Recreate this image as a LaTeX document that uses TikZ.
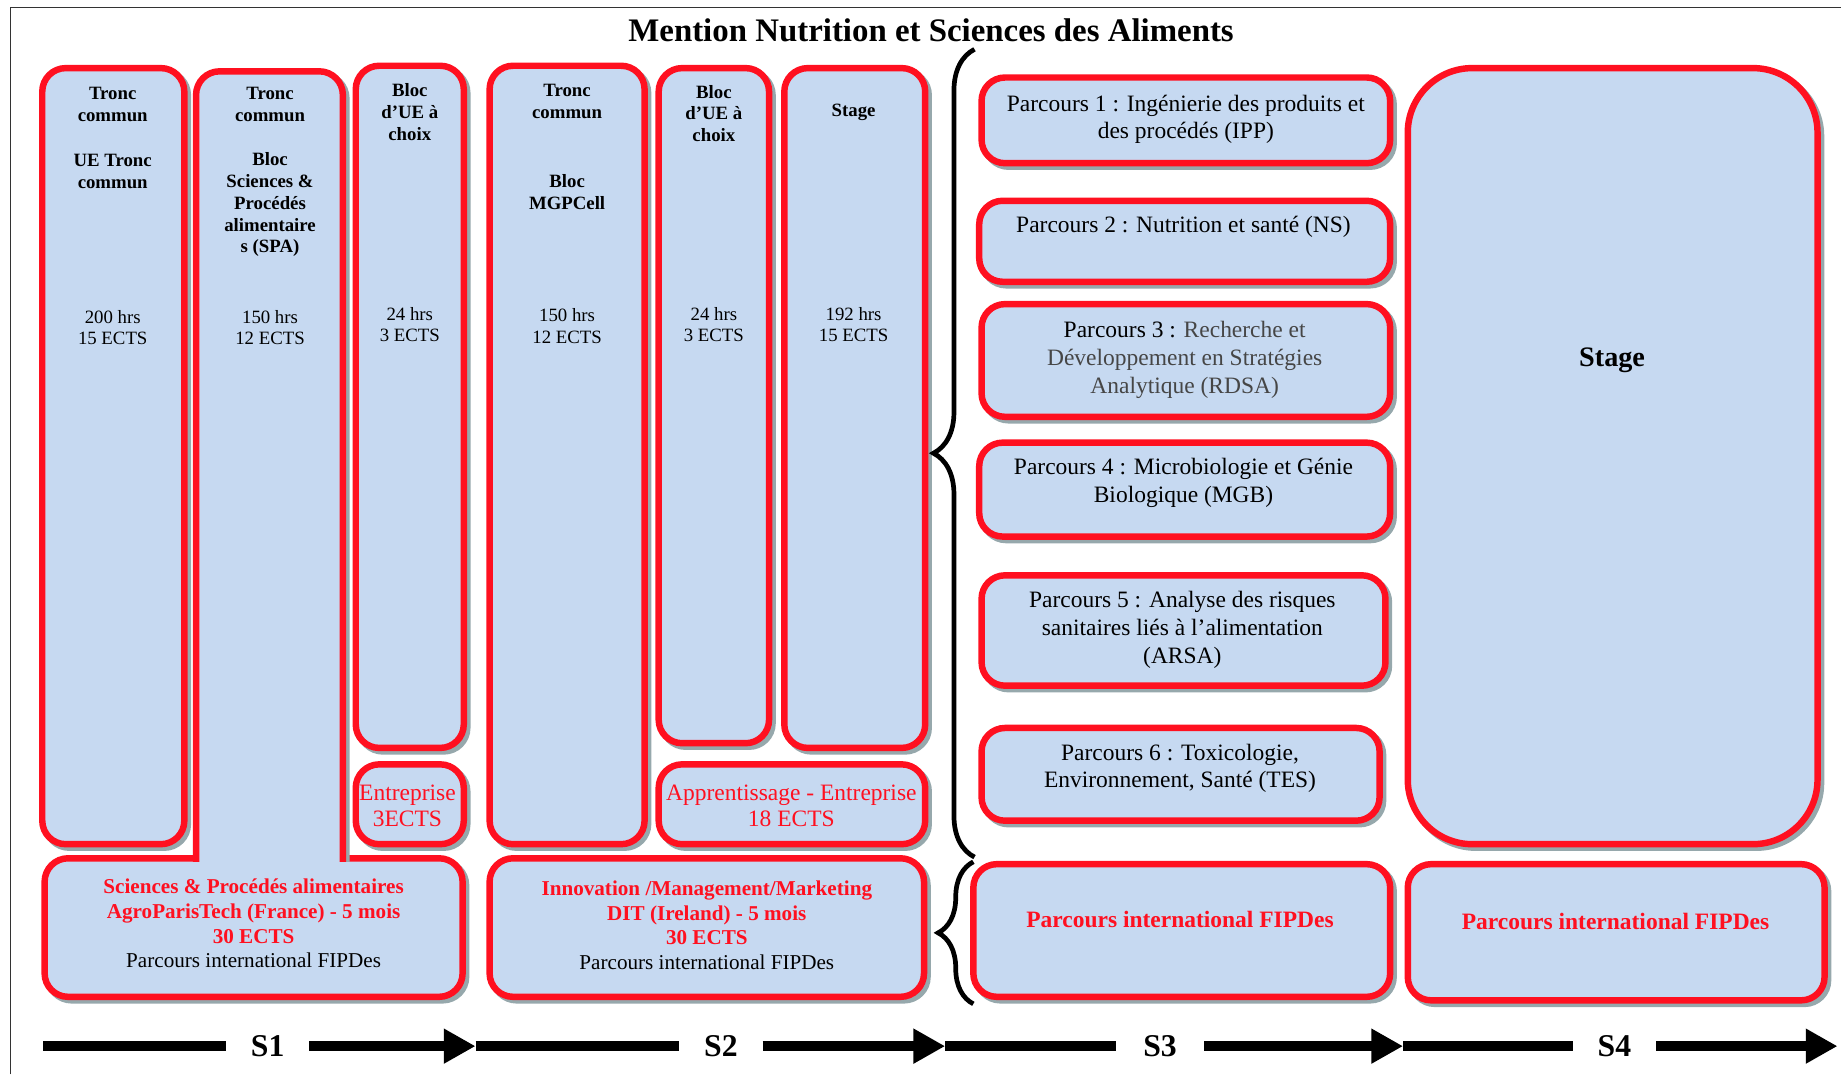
\documentclass[tikz,border=0pt]{standalone}
\usepackage{fontspec}
\setmainfont{Liberation Serif}
\usetikzlibrary{shadows,decorations.pathreplacing,arrows.meta}

\definecolor{boxred}{RGB}{255,16,32}
\definecolor{boxblue}{RGB}{198,217,241}
\definecolor{shade}{RGB}{150,168,172}
\definecolor{inkgray}{RGB}{70,70,70}

\tikzset{
  box/.style={draw=boxred, line width=5.5pt, fill=boxblue, rounded corners=20pt,
    inner sep=0pt,
    drop shadow={shadow xshift=3pt, shadow yshift=-3pt, fill=shade, draw=shade, opacity=1}},
  colhead/.style={font=\bfseries\fontsize{16}{18.5}\selectfont, align=center, inner sep=0pt},
  colhours/.style={font=\fontsize{16}{18.5}\selectfont, align=center, inner sep=0pt},
  redtext/.style={font=\fontsize{20}{22}\selectfont, text=boxred, align=center, inner sep=0pt},
  bottomtext/.style={font=\bfseries\fontsize{18}{21}\selectfont, text=boxred, align=center, inner sep=0pt},
  parcours/.style={font=\fontsize{20}{23.5}\selectfont, align=center, inner sep=0pt},
  fipdes/.style={font=\bfseries\fontsize{20}{23}\selectfont, text=boxred, inner sep=0pt},
  semlabel/.style={font=\bfseries\fontsize{27}{30}\selectfont, inner xsep=21pt, inner ysep=0pt},
  timeline/.style={line width=8.5pt, black},
  timehead/.style={-{Triangle[length=27pt,width=28pt]}},
  bracestyle/.style={line width=4pt, black, decorate},
}

\begin{document}
\begin{tikzpicture}[x=1pt, y=-1pt]
\useasboundingbox (0,0) rectangle (1568,915);

% outer frame (top and left edges)
\draw[line width=1.3pt, black!80] (9,915) -- (9,6.5) -- (1568,6.5);

% title
\node[font=\bfseries\fontsize{28}{32}\selectfont, inner sep=0pt] (title) at (793,26) {Mention Nutrition et Sciences des Aliments};

% ---------------- S1 ----------------
\node[box, minimum width=356pt, minimum height=118pt] (fipA) at (216,790) {};
\begin{scope}
  \clip (0,0) rectangle (1568,734);
  \node[box, minimum width=125pt, minimum height=742pt, anchor=north] (spa) at (229.5,58) {};
\end{scope}
\node[box, minimum width=121pt, minimum height=661pt] (ueA) at (96.5,388.5) {};
\node[box, minimum width=92pt, minimum height=581pt] (choixA) at (349,346.5) {};
\node[box, minimum width=92pt, minimum height=68pt] (entA) at (349,685) {};

\node[colhead] (ueAt1) at (96,89) {Tronc\\commun};
\node[colhead] (ueAt2) at (96,146) {UE Tronc\\commun};
\node[colhours] (ueAh) at (96,279) {200 hrs\\15 ECTS};

\node[colhead] (spat1) at (230,89) {Tronc\\commun};
\node[colhead] (spat2) at (230,174.5) {Bloc\\Sciences \&\\Procédés\\alimentaire\\s (SPA)};
\node[colhours] (spah) at (230,279) {150 hrs\\12 ECTS};

\node[colhead] (choixAt) at (349,95.5) {Bloc\\d’UE à\\choix};
\node[colhours] (choixAh) at (349,276.5) {24 hrs\\3 ECTS};

\node[redtext] (entAt) at (347,686) {Entreprise\\3ECTS};

\node[bottomtext] (fipAt) at (216,786.5) {Sciences \& Procédés alimentaires\\AgroParisTech (France) - 5 mois\\30 ECTS\\{\mdseries\color{black}Parcours international FIPDes}};

% ---------------- S2 ----------------
\node[box, minimum width=370pt, minimum height=118pt] (fipB) at (602,790) {};
\node[box, minimum width=132pt, minimum height=663pt] (mgp) at (483,387.5) {};
\node[box, minimum width=94pt, minimum height=575pt] (choixB) at (608,345.5) {};
\node[box, minimum width=120pt, minimum height=579pt] (stageB) at (728,347.5) {};
\node[box, minimum width=227pt, minimum height=68pt] (appr) at (674.5,685) {};

\node[colhead] (mgpt1) at (483,86.5) {Tronc\\commun};
\node[colhead] (mgpt2) at (483,163.5) {Bloc\\MGPCell};
\node[colhours] (mgph) at (483,277.5) {150 hrs\\12 ECTS};

\node[colhead] (choixBt) at (608,96.5) {Bloc\\d’UE à\\choix};
\node[colhours] (choixBh) at (608,276.5) {24 hrs\\3 ECTS};

\node[colhead] (stageBt) at (727,96) {Stage};
\node[colhours] (stageBh) at (727,276.5) {192 hrs\\15 ECTS};

\node[redtext] (apprt) at (674,686) {Apprentissage - Entreprise\\18 ECTS};

\node[bottomtext] (fipBt) at (602,788) {Innovation /Management/Marketing\\DIT (Ireland) - 5 mois\\30 ECTS\\{\mdseries\color{black}Parcours international FIPDes}};

% ---------------- S3 ----------------
\node[box, minimum width=348pt, minimum height=73pt] (p1) at (1010,102.5) {};
\node[box, minimum width=350pt, minimum height=69pt] (p2) at (1009,205.5) {};
\node[box, minimum width=348pt, minimum height=96pt] (p3) at (1010,307) {};
\node[box, minimum width=350pt, minimum height=80pt] (p4) at (1009,417) {};
\node[box, minimum width=344pt, minimum height=94pt] (p5) at (1008,537) {};
\node[box, minimum width=339pt, minimum height=79pt] (p6) at (1005.5,659.5) {};
\node[box, minimum width=355pt, minimum height=113pt] (fipC) at (1006.5,792.5) {};

\node[parcours] (p1t) at (1010,101.5) {Parcours 1 : Ingénierie des produits et\\des procédés (IPP)};
\node[parcours] (p2t) at (1008,193) {Parcours 2 : Nutrition et santé (NS)};
\node[parcours] (p3t) at (1009,306.5) {Parcours 3 : {\color{inkgray}Recherche et}\\{\color{inkgray}Développement en Stratégies}\\{\color{inkgray}Analytique (RDSA)}};
\node[parcours] (p4t) at (1008,411.5) {Parcours 4 : Microbiologie et Génie\\Biologique (MGB)};
\node[parcours] (p5t) at (1007,536.5) {Parcours 5 : Analyse des risques\\sanitaires liés à l’alimentation\\(ARSA)};
\node[parcours] (p6t) at (1005,654.5) {Parcours 6 : Toxicologie,\\Environnement, Santé (TES)};
\node[fipdes] (fipCt) at (1005,783) {Parcours international FIPDes};

% braces grouping the S3 options
\coordinate (brA1) at (830,730);
\coordinate (brA2) at (830,42);
\draw[bracestyle, decoration={brace, amplitude=35pt}] (brA1) -- (brA2);
\coordinate (brB1) at (829,855);
\coordinate (brB2) at (829,734);
\draw[bracestyle, decoration={brace, amplitude=30pt}] (brB1) -- (brB2);

% ---------------- S4 ----------------
\node[box, rounded corners=55pt, minimum width=349pt, minimum height=661pt] (stageD) at (1373.5,388.5) {};
\node[box, minimum width=355pt, minimum height=116pt] (fipD) at (1376.5,794) {};
\node[font=\bfseries\fontsize{24}{28}\selectfont, inner sep=0pt] (stageDt) at (1373,307) {Stage};
\node[fipdes] (fipDt) at (1376,785) {Parcours international FIPDes};

% ---------------- semester timeline ----------------
\coordinate (t0) at (37,891);
\coordinate (t1) at (405,891);
\coordinate (t2) at (805,891);
\coordinate (t3) at (1195,891);
\coordinate (t4) at (1565,891);
\node[semlabel] (s1) at (228,891) {S1};
\node[semlabel] (s2) at (614,891) {S2};
\node[semlabel, inner xsep=23pt] (s3) at (988,891) {S3};
\node[semlabel] (s4) at (1375,891) {S4};
\draw[timeline] (t0) -- (s1);
\draw[timeline, timehead] (s1) -- (t1);
\draw[timeline] (t1) -- (s2);
\draw[timeline, timehead] (s2) -- (t2);
\draw[timeline] (t2) -- (s3);
\draw[timeline, timehead] (s3) -- (t3);
\draw[timeline] (t3) -- (s4);
\draw[timeline, timehead] (s4) -- (t4);
\end{tikzpicture}
\end{document}
